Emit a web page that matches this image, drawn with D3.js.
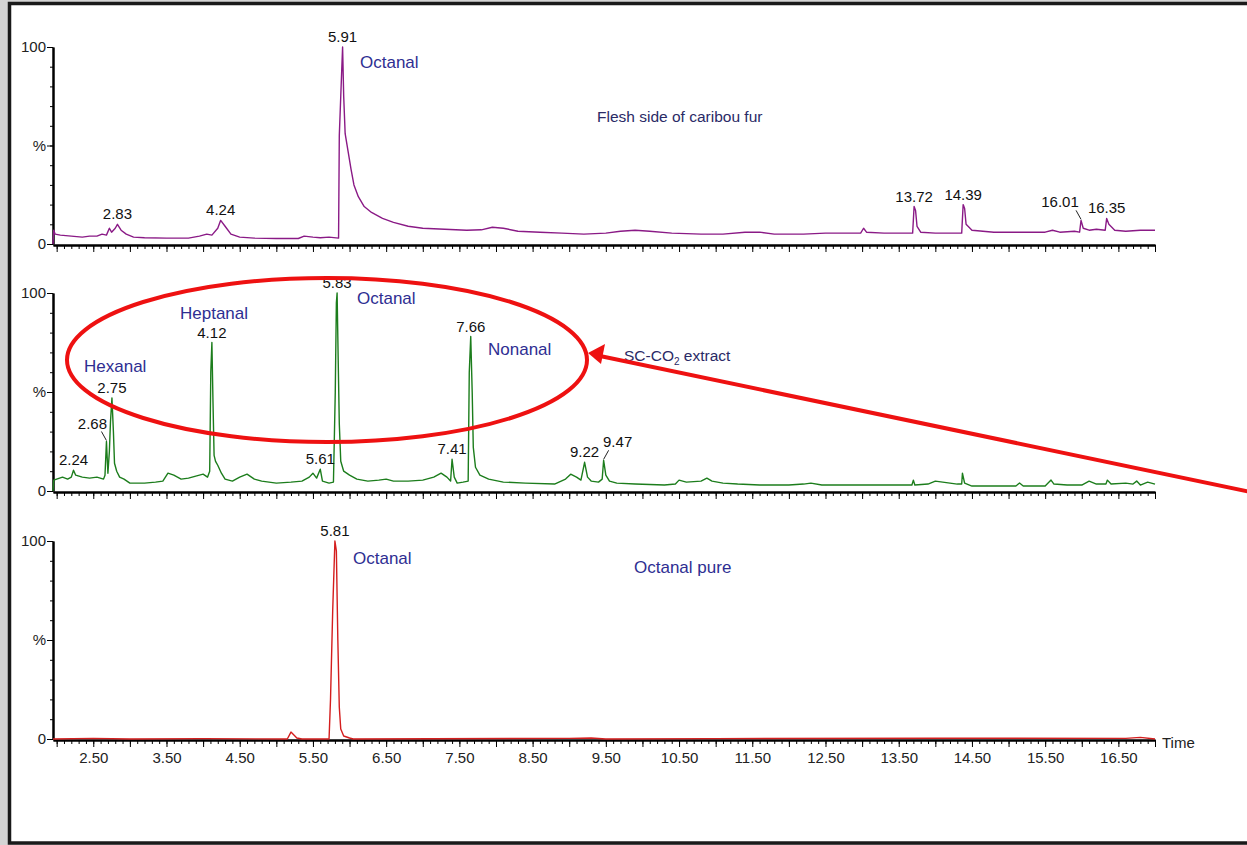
<!DOCTYPE html>
<html>
<head>
<meta charset="utf-8">
<script src="https://cdn.jsdelivr.net/npm/d3@7"></script>
<style>
  body { margin: 0; background: #fff; }
  svg { display: block; font-family: "Liberation Sans", Arial, sans-serif; }
</style>
</head>
<body>
<script>
// chromatogram traces: [retention time (min), % of base peak]
var furTrace = [[1.95,0],[1.96,7],[1.98,5],[2.05,4.5],[2.2,4],[2.35,3.5],[2.45,4],[2.55,4],[2.62,5],[2.68,4.5],
  [2.72,8],[2.75,6],[2.8,8],[2.83,10],[2.88,7],[2.95,5],[3.05,3.5],[3.2,3.2],[3.5,3],[3.8,3],[3.95,4],[4.05,5],
  [4.12,4.5],[4.2,8],[4.24,12],[4.3,9],[4.38,5],[4.5,3.5],[4.7,3],[5.0,2.8],[5.3,2.8],[5.38,4],[5.5,3.5],[5.6,3.2],
  [5.72,3.5],[5.85,3],[5.86,55],[5.88,75],[5.905,100],[5.92,75],[5.94,56],[5.98,47],[6.02,38],[6.06,30],[6.12,24],
  [6.2,19],[6.3,16],[6.45,13],[6.6,11],[6.8,9],[7.0,8],[7.3,7.5],[7.6,7],[7.8,7.2],[7.95,8.5],[8.1,8],[8.3,6.5],
  [8.6,6],[8.9,5.5],[9.2,5],[9.5,5.5],[9.7,6.5],[9.9,7],[10.1,6.5],[10.4,5.5],[10.8,5],[11.1,5],[11.4,6],[11.6,6],
  [11.8,5],[12.2,5],[12.5,5.5],[12.8,5.5],[12.98,5.5],[13.02,8],[13.06,6],[13.3,5.5],[13.6,5.5],[13.69,5.5],
  [13.71,19],[13.73,17],[13.75,9],[13.8,6],[14.0,5.5],[14.2,5.5],[14.36,5.5],[14.38,20],[14.40,18],[14.42,10],
  [14.5,7],[14.8,6],[15.2,6],[15.5,6],[15.6,7],[15.7,6],[15.9,6.5],[15.97,6],[15.99,12],[16.02,8],[16.1,7],
  [16.2,7.5],[16.32,7],[16.34,13],[16.37,10],[16.45,7],[16.6,6.5],[16.8,7],[17.0,7]];

var co2Trace = [[1.95,0],[1.96,5.5],[2.0,6],[2.08,7],[2.15,6],[2.2,7],[2.23,10.5],[2.26,8],[2.35,7],[2.45,6.5],
  [2.55,7],[2.64,6],[2.66,8],[2.68,25],[2.70,9],[2.72,20],[2.735,35],[2.755,47],[2.775,30],[2.79,14],[2.82,10],
  [2.86,7],[2.92,6],[3.0,4],[3.2,4],[3.35,4.5],[3.45,5],[3.52,9],[3.6,8],[3.7,6],[3.8,6.5],[3.9,7.5],[4.0,8.5],
  [4.06,7],[4.09,10],[4.105,60],[4.12,75],[4.135,45],[4.15,18],[4.17,15],[4.2,13],[4.25,9],[4.3,6],[4.4,5],
  [4.5,7],[4.6,8.5],[4.7,6],[4.8,5],[5.0,4],[5.2,4.5],[5.35,5],[5.45,7],[5.5,9],[5.55,6.5],[5.6,11],[5.63,5],
  [5.72,4],[5.78,4.5],[5.805,50],[5.82,95],[5.83,100],[5.845,66],[5.86,34],[5.88,15],[5.92,10],[6.0,8],[6.1,6],
  [6.25,5],[6.4,5.5],[6.5,6],[6.6,5],[6.8,5],[7.0,5.5],[7.15,7],[7.25,9],[7.33,7],[7.38,5],[7.40,16],[7.43,7],
  [7.47,4],[7.55,4.5],[7.62,5],[7.635,60],[7.655,78],[7.675,50],[7.69,22],[7.72,12],[7.78,8],[7.9,6],[8.1,4.5],
  [8.4,4],[8.8,3.5],[8.95,6],[9.02,8.5],[9.1,7],[9.16,5.5],[9.21,14.5],[9.25,7],[9.3,5],[9.4,4.5],[9.45,6],
  [9.47,15.5],[9.5,8],[9.55,5],[9.65,4],[9.9,3.5],[10.3,3],[10.45,3.5],[10.5,5.5],[10.6,4.5],[10.8,5],[10.88,6.5],
  [10.95,5],[11.1,4],[11.3,3.5],[11.6,3],[12.0,3],[12.2,3.5],[12.3,4],[12.45,3],[12.8,3],[13.2,3],[13.5,3],
  [13.68,3],[13.70,5.5],[13.72,3],[13.9,3.5],[14.0,5],[14.1,4.5],[14.3,3.5],[14.36,3.5],[14.37,9],[14.40,4],
  [14.5,2.5],[14.8,2.5],[15.1,2.5],[15.15,4],[15.2,2.5],[15.5,2.5],[15.58,5.5],[15.62,3.5],[15.8,3],[16.0,3],
  [16.1,5],[16.2,3.5],[16.33,3.5],[16.35,5.5],[16.4,3.5],[16.6,4],[16.7,3.5],[16.75,5],[16.8,3],[16.9,4.5],[17.0,3.5]];

var pureTrace = [[1.95,0],[2.5,0.3],[3.0,0],[4.0,0.2],[5.15,0],[5.2,3.5],[5.24,2],[5.28,0.5],[5.35,0],[5.72,0],
  [5.74,20],[5.77,65],[5.80,100],[5.82,95],[5.84,50],[5.86,16],[5.88,5],[5.92,1.5],[6.0,0.5],[6.05,0],[9.0,0.3],
  [9.3,0.5],[9.5,0],[11.0,0.2],[14.0,0.4],[16.6,0.3],[16.8,0.8],[17.0,0]];

// peak retention-time labels
var furPeaks = ["2.83", "4.24", "5.91", "13.72", "14.39", "16.01", "16.35"];
var co2Peaks = ["2.24", "2.68", "2.75", "4.12", "5.61", "5.83", "7.41", "7.66", "9.22", "9.47"];
var purePeaks = ["5.81"];

var xTickLabels = ["2.50", "3.50", "4.50", "5.50", "6.50", "7.50", "8.50", "9.50",
  "10.50", "11.50", "12.50", "13.50", "14.50", "15.50", "16.50"];
var yTickLabels = ["0", "%", "100"];

var W = 1247, H = 845;
var svg = d3.select("body").append("svg").attr("width", W).attr("height", H);

// window frame
svg.append("rect").attr("width", W).attr("height", H).attr("fill", "#d4d4d4");
svg.append("rect").attr("x", 9.5).attr("y", 3.5).attr("width", 1270).attr("height", 839.5)
  .attr("fill", "#fff").attr("stroke", "#1a1a1a").attr("stroke-width", 3.5);

var x = d3.scaleLinear().domain([1.95, 17.0]).range([53, 1155]);

var panels = [
  {trace: furTrace, peaks: furPeaks, color: "#8a1a86", y0: 244, y1: 47},
  {trace: co2Trace, peaks: co2Peaks, color: "#1c7d1c", y0: 491, y1: 293},
  {trace: pureTrace, peaks: purePeaks, color: "#d41e1e", y0: 739, y1: 541}
];

var nudge = {"2.68": -14, "9.47": 14, "16.01": -21};

var minorT = d3.range(20, 171).map(function(i) { return i / 10; });
var majorT = d3.range(4, 35).map(function(i) { return i / 2; });

panels.forEach(function(p, k) {
  var y = d3.scaleLinear().domain([0, 100]).range([p.y0, p.y1]);
  var g = svg.append("g");

  // x axis: minor, major, labels on the last panel only
  var ax = g.append("g").attr("transform", "translate(0," + (p.y0 + 1) + ")");
  ax.append("g").call(d3.axisBottom(x).tickValues(minorT).tickSize(4).tickSizeOuter(0).tickFormat(""));
  ax.append("g").call(d3.axisBottom(x).tickValues(majorT).tickSize(7).tickSizeOuter(0)
    .tickFormat(function(d) {
      var s = d.toFixed(2);
      return (k === 2 && xTickLabels.indexOf(s) >= 0) ? s : "";
    }).tickPadding(5));
  ax.selectAll(".domain").attr("stroke-width", 2);
  ax.selectAll("text").attr("font-size", 15).attr("fill", "#222").attr("font-family", null);

  // y axis
  var ay = g.append("g").attr("transform", "translate(53,0)");
  ay.append("g").call(d3.axisLeft(y).tickValues(d3.range(10, 100, 10)).tickSize(3).tickSizeOuter(0).tickFormat(""));
  ay.append("g").call(d3.axisLeft(y).tickValues([0, 50, 100]).tickSize(6).tickSizeOuter(0).tickPadding(1)
    .tickFormat(function(d, i) { return yTickLabels[i]; }));
  ay.selectAll(".domain").attr("stroke-width", 2);
  ay.selectAll("text").attr("font-size", 15).attr("fill", "#222").attr("font-family", null);

  // trace
  var line = d3.line().x(function(d) { return x(d[0]); }).y(function(d) { return y(d[1]); });
  g.append("path").datum(p.trace).attr("d", line)
    .attr("fill", "none").attr("stroke", p.color).attr("stroke-width", 1.4).attr("stroke-linejoin", "round");

  // peak labels
  p.peaks.forEach(function(lbl) {
    var t = +lbl;
    var near = p.trace.filter(function(d) { return Math.abs(d[0] - t) <= 0.04; });
    var top = d3.greatest(near, function(d) { return d[1]; });
    var px = x(top[0]), py = y(top[1]);
    var dx = nudge[lbl] || 0;
    var by = py - 5;
    if (dx) {
      var s = dx < 0 ? -1 : 1;
      g.append("line").attr("x1", px).attr("y1", py - 1).attr("x2", px + s * 5).attr("y2", py - 10)
        .attr("stroke", "#222").attr("stroke-width", 1);
      by = py - 13;
    }
    g.append("text").attr("x", px + dx).attr("y", by).attr("text-anchor", "middle")
      .attr("font-size", 15).attr("fill", "#111").text(lbl);
  });
});

// compound names and sample titles
var names = [
  ["Octanal", 360, 68], ["Heptanal", 180, 319], ["Hexanal", 84, 372], ["Octanal", 357, 304],
  ["Nonanal", 488, 355], ["Octanal", 353, 564]
];
names.forEach(function(n) {
  svg.append("text").attr("x", n[1]).attr("y", n[2]).attr("font-size", 17).attr("fill", "#2e2e92").text(n[0]);
});

svg.append("text").attr("x", 597).attr("y", 122).attr("font-size", 15.5).attr("fill", "#2a2a66")
  .text("Flesh side of caribou fur");
var sc = svg.append("text").attr("x", 624).attr("y", 361).attr("font-size", 15.5).attr("fill", "#2a2a66");
sc.append("tspan").text("SC-CO");
sc.append("tspan").attr("font-size", 10).attr("dy", 4).text("2");
sc.append("tspan").attr("dy", -4).text(" extract");
svg.append("text").attr("x", 634).attr("y", 573).attr("font-size", 17).attr("fill", "#2e2e92").text("Octanal pure");
svg.append("text").attr("x", 1162).attr("y", 748).attr("font-size", 15).attr("fill", "#222").text("Time");

// red highlight ellipse and arrow
svg.append("ellipse").attr("cx", 327).attr("cy", 360).attr("rx", 260).attr("ry", 82)
  .attr("fill", "none").attr("stroke", "#ee1111").attr("stroke-width", 4);
svg.append("line").attr("x1", 1260).attr("y1", 494).attr("x2", 600).attr("y2", 356)
  .attr("stroke", "#ee1111").attr("stroke-width", 4);
svg.append("path").attr("d", "M588,353 L605,344 L601,364 Z").attr("fill", "#ee1111");
</script>
</body>
</html>
